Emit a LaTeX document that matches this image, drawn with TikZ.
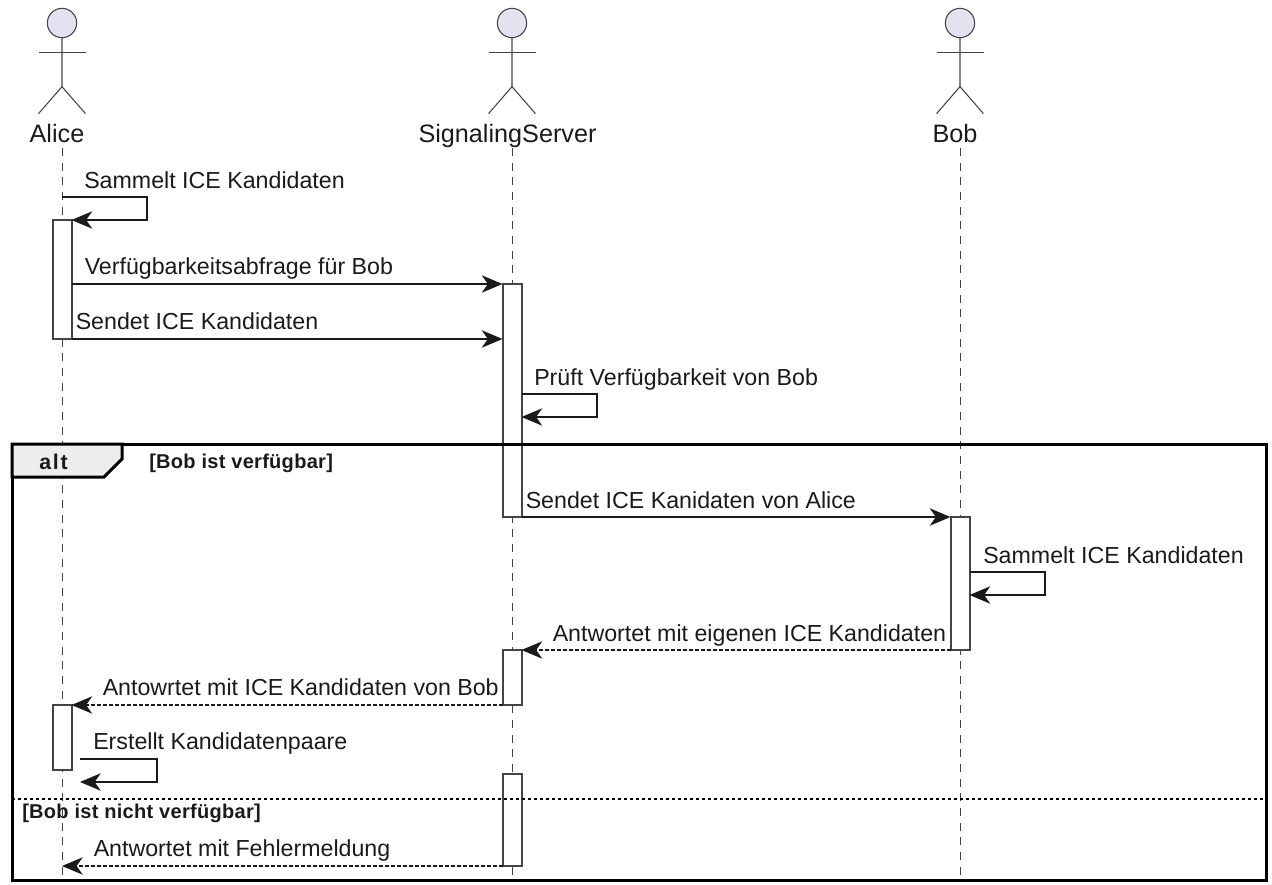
\documentclass[tikz,border=0pt]{standalone}
\usepackage{fontspec}
\setmainfont{Liberation Sans}
\newfontfamily\tagfont[LetterSpace=1.5]{Liberation Sans}
\newfontfamily\altfont[LetterSpace=8]{Liberation Sans}
\usetikzlibrary{arrows.meta}

\definecolor{headfill}{HTML}{E2E2F0}
\definecolor{tabfill}{HTML}{EEEEEE}
\definecolor{inkgrey}{HTML}{1A1A1A}
\definecolor{linegrey}{HTML}{444444}

\tikzset{
  actorline/.style={draw=linegrey, line width=0.8pt},
  actorhead/.style={circle, draw=linegrey, fill=headfill, line width=0.8pt, minimum size=22pt, inner sep=0pt, outer sep=0pt},
  actorname/.style={anchor=base, inner sep=0pt, text=inkgrey, font=\fontsize{18.9}{22}\selectfont},
  lifeline/.style={draw=linegrey, line width=0.75pt, dash pattern=on 6pt off 5pt},
  actbar/.style={rectangle, draw=linegrey, fill=white, line width=1.5pt, anchor=north, minimum width=14.25pt, inner sep=0pt, outer sep=0pt},
  msg/.style={draw=inkgrey, line width=1.3pt, line join=miter, -{Stealth[length=15.5pt, width=13pt, inset=4.5pt]}},
  reply/.style={msg, dash pattern=on 2.5pt off 2pt},
  msgtext/.style={anchor=base west, inner sep=0pt, text=inkgrey, font=\fontsize{17.4}{21}\selectfont},
  guardtext/.style={anchor=base west, inner sep=0pt, text=inkgrey, font=\tagfont\bfseries\fontsize{15}{18}\selectfont},
}

\begin{document}
\begin{tikzpicture}[x=0.75pt, y=-0.75pt]
  \useasboundingbox (0,0) rectangle (1272,885);

  % lifelines
  \coordinate (alicetop)     at (62,148);
  \coordinate (alicebottom)  at (62,880);
  \coordinate (servertop)    at (512,148);
  \coordinate (serverbottom) at (512,880);
  \coordinate (bobtop)       at (960,148);
  \coordinate (bobbottom)    at (960,880);
  \draw [lifeline] (alicetop) -- (alicebottom);
  \draw [lifeline] (servertop) -- (serverbottom);
  \draw [lifeline] (bobtop) -- (bobbottom);

  % actors
  \node [actorhead] (alicehead) at (62,23) {};
  \draw [actorline] (alicehead.south) -- ++(0,49) -- ++(-23.5,27);
  \draw [actorline] (alicehead.south) ++(0,49) -- ++(23.5,27);
  \draw [actorline] (alicehead.south) ++(-23.5,15) -- ++(47,0);
  \node [actorname] (alice) at (57,142) {Alice};

  \node [actorhead] (serverhead) at (512,23) {};
  \draw [actorline] (serverhead.south) -- ++(0,49) -- ++(-23.5,27);
  \draw [actorline] (serverhead.south) ++(0,49) -- ++(23.5,27);
  \draw [actorline] (serverhead.south) ++(-23.5,15) -- ++(47,0);
  \node [actorname] (server) at (507.5,142) {SignalingServer};

  \node [actorhead] (bobhead) at (960,23) {};
  \draw [actorline] (bobhead.south) -- ++(0,49) -- ++(-23.5,27);
  \draw [actorline] (bobhead.south) ++(0,49) -- ++(23.5,27);
  \draw [actorline] (bobhead.south) ++(-23.5,15) -- ++(47,0);
  \node [actorname] (bob) at (955,142) {Bob};

  % activation bars
  \node [actbar, minimum height=89.25pt]  (aliceact1)  at (62,220)  {};
  \node [actbar, minimum height=174.75pt] (serveract1) at (512,284) {};
  \node [actbar, minimum height=99.75pt]  (bobact)     at (960,517) {};
  \node [actbar, minimum height=41.25pt]  (serveract2) at (512,650) {};
  \node [actbar, minimum height=48.75pt]  (aliceact2)  at (62,705)  {};
  \node [actbar, minimum height=69pt]     (serveract3) at (512,774) {};

  % messages
  \coordinate (collectstart) at (62,197);
  \draw [msg] (collectstart) -- ++(85,0) -- ++(0,23) -- (aliceact1.north east);
  \node [msgtext] (collecttext) at (84,188) {Sammelt ICE Kandidaten};

  \coordinate (querystart) at (71.5,284);
  \draw [msg] (querystart) -- (serveract1.north west);
  \node [msgtext] (querytext) at (84.5,274) {Verfügbarkeitsabfrage für Bob};

  \draw [msg] (aliceact1.south east) -- (aliceact1.south east -| serveract1.west);
  \node [msgtext] (sendtext) at (75.5,329) {Sendet ICE Kandidaten};

  \coordinate (checkstart) at (521.5,394);
  \coordinate (checkend)   at (521.5,417);
  \draw [msg] (checkstart) -- ++(75.5,0) -- ++(0,23) -- (checkend);
  \node [msgtext] (checktext) at (534,385) {Prüft Verfügbarkeit von Bob};

  \draw [msg] (serveract1.south east) -- (bobact.north west);
  \node [msgtext] (forwardtext) at (525.5,508) {Sendet ICE Kanidaten von Alice};

  \coordinate (bobcollectstart) at (969.5,572);
  \coordinate (bobcollectend)   at (969.5,595);
  \draw [msg] (bobcollectstart) -- ++(75.5,0) -- ++(0,23) -- (bobcollectend);
  \node [msgtext] (bobcollecttext) at (983,563) {Sammelt ICE Kandidaten};

  \draw [reply] (bobact.south west) -- (serveract2.north east);
  \node [msgtext] (answertext) at (552.5,641) {Antwortet mit eigenen ICE Kandidaten};

  \draw [reply] (serveract2.south west) -- (aliceact2.north east);
  \node [msgtext] (relaytext) at (102.5,695) {Antowrtet mit ICE Kandidaten von Bob};

  \coordinate (pairsstart) at (80,759);
  \coordinate (pairsend)   at (80,782);
  \draw [msg] (pairsstart) -- ++(77,0) -- ++(0,23) -- (pairsend);
  \node [msgtext] (pairstext) at (93,749) {Erstellt Kandidatenpaare};

  \coordinate (errorend) at (62,866);
  \draw [reply] (serveract3.south west) -- (errorend);
  \node [msgtext] (errortext) at (93.5,856) {Antwortet mit Fehlermeldung};

  % alt frame
  \node [rectangle, draw=black, line width=2.25pt, anchor=north west, minimum width=940.5pt, minimum height=327pt, inner sep=0pt, outer sep=0pt] (altframe) at (12,444) {};
  \coordinate (tabtop)    at (122,444);
  \coordinate (tabbottom) at (12,477);
  \draw [draw=black, fill=tabfill, line width=2.25pt] (altframe.north west) -- (tabtop) -- ++(0,15) -- (104,477) -- (tabbottom) -- cycle;
  \node [anchor=base, inner sep=0pt, text=inkgrey, font=\altfont\bfseries\fontsize{16}{19}\selectfont] (alttag) at (53.5,469) {alt};
  \node [guardtext] (guardyes) at (149,468) {[Bob ist verfügbar]};

  \coordinate (elseleft)  at (12,799);
  \coordinate (elseright) at (1266,799);
  \draw [draw=black, line width=1.1pt, dash pattern=on 2.5pt off 2pt] (elseleft) -- (elseright);
  \node [guardtext] (guardno) at (22,818) {[Bob ist nicht verfügbar]};

\end{tikzpicture}
\end{document}
